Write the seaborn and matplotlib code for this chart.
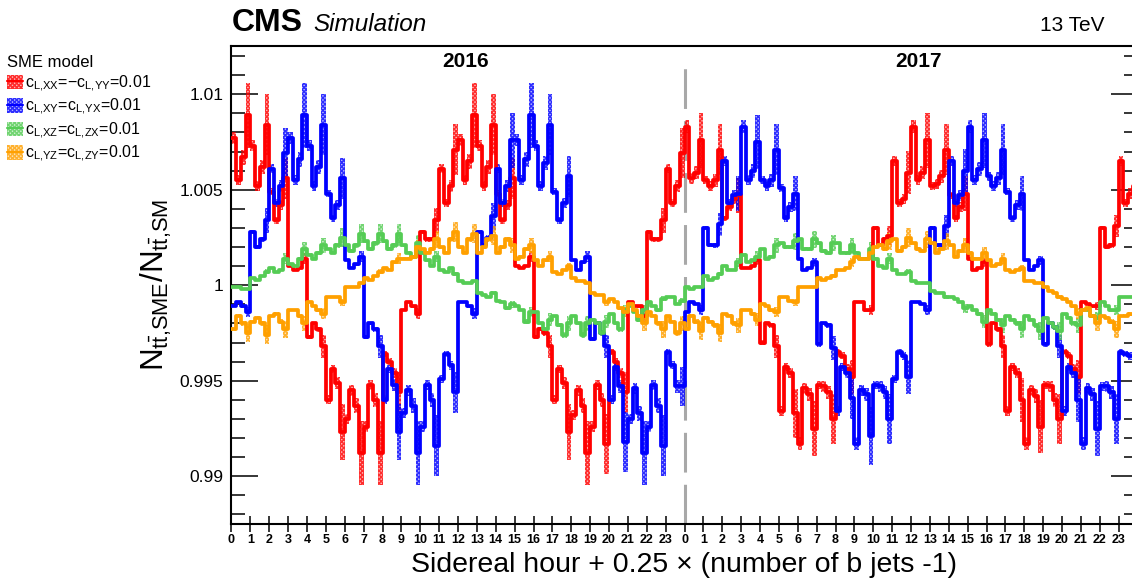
import numpy as np
import pandas as pd
import matplotlib
matplotlib.use('Agg')
import matplotlib.pyplot as plt
import seaborn as sns
from matplotlib.patches import Patch
from matplotlib.lines import Line2D
from matplotlib.colors import to_rgba
from matplotlib.ticker import MultipleLocator

sns.set_theme(style='ticks')
plt.rcParams['font.family'] = ['Liberation Sans', 'DejaVu Sans']
plt.rcParams['mathtext.fontset'] = 'custom'
plt.rcParams['mathtext.rm'] = 'Liberation Sans'
plt.rcParams['mathtext.it'] = 'Liberation Sans:italic'
plt.rcParams['hatch.linewidth'] = 1.0
plt.rcParams['text.color'] = 'black'
plt.rcParams['xtick.color'] = 'black'
plt.rcParams['ytick.color'] = 'black'
plt.rcParams['legend.labelcolor'] = 'black'

# x axis: sidereal hour + 0.25 x (n b jets - 1), 2016 then 2017
hour_labels = [str(h) for h in range(24)] * 2
year_labels = ['2016', '2017']
ytick_values = [0.99, 0.995, 1.0, 1.005, 1.01]
ytick_labels = ['0.99', '0.995', '1', '1.005', '1.01']

# relative size of the uncertainty band per b-jet bin (1,2,3,4 b jets)
bjet_rel_unc = [0.04, 0.05, 0.06, 0.19]

model_labels = [
    r'$\mathregular{c_{L{,}XX}}$=−$\mathregular{c_{L{,}YY}}$=0.01',
    r'$\mathregular{c_{L{,}XY}}$=$\mathregular{c_{L{,}YX}}$=0.01',
    r'$\mathregular{c_{L{,}XZ}}$=$\mathregular{c_{L{,}ZX}}$=0.01',
    r'$\mathregular{c_{L{,}YZ}}$=$\mathregular{c_{L{,}ZY}}$=0.01',
]
model_colors = ['#ff0000', '#0000ff', '#55cc55', '#ffa000']

# N_SME / N_SM, 4 bins per hour
ratio_xx_yy = [
    # 2016
    1.0077, 1.0055, 1.0067, 1.0089,  1.0073, 1.0052, 1.0062, 1.0084,  1.0049, 1.0034, 1.0042, 1.0056,
    1.0010, 1.0008, 1.0009, 1.0014,  0.9973, 0.9980, 0.9977, 0.9968,  0.9940, 0.9956, 0.9949, 0.9923,
    0.9930, 0.9945, 0.9937, 0.9912,  0.9926, 0.9948, 0.9940, 0.9912,  0.9964, 0.9960, 0.9954, 0.9944,
    0.9987, 0.9991, 0.9989, 0.9985,  1.0028, 1.0024, 1.0024, 1.0034,  1.0061, 1.0043, 1.0052, 1.0071,
    1.0076, 1.0055, 1.0065, 1.0089,  1.0073, 1.0052, 1.0062, 1.0084,  1.0048, 1.0034, 1.0042, 1.0056,
    1.0010, 1.0009, 1.0010, 1.0015,  0.9973, 0.9977, 0.9975, 0.9968,  0.9940, 0.9956, 0.9949, 0.9923,
    0.9932, 0.9945, 0.9937, 0.9912,  0.9926, 0.9948, 0.9940, 0.9917,  0.9965, 0.9960, 0.9954, 0.9944,
    0.9991, 0.9989, 0.9989, 0.9984,  1.0028, 1.0024, 1.0024, 1.0034,  1.0061, 1.0043, 1.0052, 1.0069,
    # 2017
    1.0083, 1.0056, 1.0059, 1.0076,  1.0055, 1.0052, 1.0055, 1.0071,  1.0035, 1.0041, 1.0045, 1.0047,
    1.0009, 1.0009, 1.0010, 1.0013,  0.9970, 0.9980, 0.9979, 0.9968,  0.9934, 0.9957, 0.9954, 0.9933,
    0.9917, 0.9946, 0.9943, 0.9925,  0.9948, 0.9947, 0.9944, 0.9930,  0.9965, 0.9963, 0.9956, 0.9952,
    0.9991, 0.9991, 0.9987, 0.9987,  1.0030, 1.0021, 1.0024, 1.0026,  1.0065, 1.0043, 1.0045, 1.0059,
    1.0083, 1.0055, 1.0059, 1.0076,  1.0052, 1.0053, 1.0057, 1.0071,  1.0047, 1.0035, 1.0041, 1.0048,
    1.0014, 1.0008, 1.0009, 1.0012,  0.9969, 0.9980, 0.9977, 0.9968,  0.9934, 0.9957, 0.9954, 0.9940,
    0.9917, 0.9945, 0.9942, 0.9926,  0.9948, 0.9947, 0.9940, 0.9930,  0.9965, 0.9963, 0.9956, 0.9952,
    0.9991, 0.9990, 0.9989, 0.9989,  1.0030, 1.0020, 1.0021, 1.0031,  1.0065, 1.0043, 1.0048, 1.0052,
]

ratio_xy_yx = [
    # 2016
    0.9989, 0.9991, 0.9989, 0.9986,  1.0028, 1.0020, 1.0024, 1.0034,  1.0061, 1.0043, 1.0052, 1.0069,
    1.0077, 1.0055, 1.0066, 1.0089,  1.0073, 1.0052, 1.0062, 1.0084,  1.0048, 1.0035, 1.0042, 1.0056,
    1.0013, 1.0009, 1.0011, 1.0015,  0.9973, 0.9980, 0.9977, 0.9968,  0.9940, 0.9956, 0.9948, 0.9923,
    0.9933, 0.9945, 0.9937, 0.9912,  0.9926, 0.9948, 0.9940, 0.9916,  0.9951, 0.9964, 0.9958, 0.9944,
    0.9991, 0.9991, 0.9989, 0.9985,  1.0028, 1.0021, 1.0025, 1.0036,  1.0061, 1.0043, 1.0052, 1.0076,
    1.0076, 1.0055, 1.0066, 1.0089,  1.0073, 1.0052, 1.0064, 1.0084,  1.0049, 1.0034, 1.0043, 1.0057,
    1.0013, 1.0008, 1.0012, 1.0015,  0.9972, 0.9980, 0.9975, 0.9968,  0.9940, 0.9957, 0.9947, 0.9918,
    0.9930, 0.9946, 0.9933, 0.9912,  0.9926, 0.9948, 0.9937, 0.9916,  0.9965, 0.9958, 0.9947, 0.9947,
    # 2017
    0.9986, 0.9991, 0.9990, 0.9987,  1.0030, 1.0021, 1.0021, 1.0032,  1.0065, 1.0043, 1.0047, 1.0048,
    1.0083, 1.0055, 1.0060, 1.0075,  1.0055, 1.0052, 1.0055, 1.0071,  1.0051, 1.0035, 1.0041, 1.0048,
    1.0014, 1.0008, 1.0009, 1.0012,  0.9969, 0.9980, 0.9979, 0.9967,  0.9934, 0.9957, 0.9954, 0.9941,
    0.9917, 0.9945, 0.9943, 0.9921,  0.9948, 0.9947, 0.9944, 0.9930,  0.9951, 0.9965, 0.9963, 0.9952,
    0.9991, 0.9991, 0.9990, 0.9987,  1.0030, 1.0021, 1.0021, 1.0031,  1.0065, 1.0043, 1.0047, 1.0060,
    1.0083, 1.0055, 1.0061, 1.0076,  1.0057, 1.0052, 1.0056, 1.0071,  1.0049, 1.0035, 1.0042, 1.0048,
    1.0013, 1.0008, 1.0010, 1.0013,  0.9969, 0.9980, 0.9978, 0.9968,  0.9934, 0.9957, 0.9954, 0.9940,
    0.9917, 0.9946, 0.9943, 0.9925,  0.9947, 0.9947, 0.9944, 0.9930,  0.9965, 0.9964, 0.9963, 0.9963,
]

ratio_xz_zx = [
    # 2016
    0.9999, 0.9999, 0.9998, 0.9998,  1.0004, 1.0003, 1.0005, 1.0007,  1.0009, 1.0007, 1.0008, 1.0014,
    1.0011, 1.0010, 1.0014, 1.0019,  1.0016, 1.0014, 1.0017, 1.0021,  1.0019, 1.0017, 1.0021, 1.0025,
    1.0021, 1.0018, 1.0021, 1.0027,  1.0023, 1.0019, 1.0022, 1.0027,  1.0023, 1.0019, 1.0021, 1.0027,
    1.0021, 1.0017, 1.0015, 1.0022,  1.0017, 1.0013, 1.0010, 1.0015,  1.0008, 1.0007, 1.0009, 1.0006,
    1.0002, 1.0001, 1.0001, 1.0002,  0.9996, 0.9995, 0.9994, 0.9996,  0.9992, 0.9991, 0.9988, 0.9990,
    0.9989, 0.9987, 0.9981, 0.9986,  0.9986, 0.9980, 0.9977, 0.9982,  0.9984, 0.9979, 0.9974, 0.9980,
    0.9984, 0.9980, 0.9974, 0.9980,  0.9982, 0.9980, 0.9975, 0.9981,  0.9985, 0.9980, 0.9977, 0.9987,
    0.9989, 0.9986, 0.9982, 0.9987,  0.9991, 0.9989, 0.9987, 0.9993,  0.9994, 0.9994, 0.9990, 0.9992,
    # 2017
    0.9999, 0.9998, 0.9999, 0.9999,  1.0005, 1.0003, 1.0004, 1.0006,  1.0010, 1.0008, 1.0008, 1.0012,
    1.0016, 1.0012, 1.0013, 1.0015,  1.0019, 1.0014, 1.0015, 1.0021,  1.0022, 1.0020, 1.0020, 1.0023,
    1.0024, 1.0019, 1.0019, 1.0024,  1.0022, 1.0018, 1.0017, 1.0022,  1.0022, 1.0017, 1.0017, 1.0021,
    1.0017, 1.0014, 1.0014, 1.0019,  1.0014, 1.0010, 1.0009, 1.0014,  1.0008, 1.0006, 1.0006, 1.0007,
    1.0002, 1.0001, 1.0001, 1.0001,  0.9997, 0.9996, 0.9996, 0.9994,  0.9994, 0.9993, 0.9991, 0.9988,
    0.9989, 0.9987, 0.9985, 0.9981,  0.9987, 0.9985, 0.9982, 0.9979,  0.9984, 0.9982, 0.9980, 0.9977,
    0.9984, 0.9982, 0.9979, 0.9976,  0.9983, 0.9980, 0.9978, 0.9976,  0.9985, 0.9983, 0.9980, 0.9979,
    0.9987, 0.9987, 0.9984, 0.9983,  0.9991, 0.9989, 0.9987, 0.9987,  0.9994, 0.9994, 0.9994, 0.9994,
]

ratio_yz_zy = [
    # 2016
    0.9977, 0.9984, 0.9980, 0.9975,  0.9981, 0.9983, 0.9980, 0.9974,  0.9984, 0.9985, 0.9981, 0.9977,
    0.9987, 0.9987, 0.9984, 0.9980,  0.9991, 0.9989, 0.9987, 0.9985,  0.9994, 0.9994, 0.9994, 0.9991,
    0.9999, 0.9999, 0.9999, 1.0001,  1.0004, 1.0003, 1.0005, 1.0007,  1.0009, 1.0008, 1.0012, 1.0014,
    1.0014, 1.0014, 1.0015, 1.0020,  1.0019, 1.0017, 1.0019, 1.0024,  1.0020, 1.0017, 1.0024, 1.0028,
    1.0020, 1.0017, 1.0024, 1.0027,  1.0017, 1.0020, 1.0024, 1.0026,  1.0017, 1.0020, 1.0024, 1.0021,
    1.0014, 1.0015, 1.0019, 1.0021,  1.0013, 1.0010, 1.0013, 1.0015,  1.0007, 1.0006, 1.0008, 1.0010,
    1.0004, 1.0002, 1.0002, 1.0001,  0.9996, 0.9995, 0.9995, 0.9991,  0.9993, 0.9991, 0.9988, 0.9986,
    0.9990, 0.9987, 0.9984, 0.9980,  0.9986, 0.9984, 0.9980, 0.9977,  0.9984, 0.9981, 0.9975, 0.9980,
    # 2017
    0.9977, 0.9984, 0.9981, 0.9976,  0.9983, 0.9981, 0.9979, 0.9975,  0.9985, 0.9984, 0.9980, 0.9979,
    0.9987, 0.9987, 0.9985, 0.9982,  0.9990, 0.9989, 0.9987, 0.9986,  0.9994, 0.9994, 0.9992, 0.9991,
    0.9999, 0.9999, 0.9999, 0.9999,  1.0004, 1.0003, 1.0004, 1.0005,  1.0008, 1.0008, 1.0009, 1.0012,
    1.0015, 1.0014, 1.0014, 1.0017,  1.0020, 1.0021, 1.0019, 1.0023,  1.0024, 1.0018, 1.0020, 1.0025,
    1.0022, 1.0019, 1.0018, 1.0024,  1.0022, 1.0017, 1.0019, 1.0023,  1.0021, 1.0015, 1.0018, 1.0021,
    1.0017, 1.0014, 1.0014, 1.0017,  1.0013, 1.0010, 1.0011, 1.0014,  1.0008, 1.0007, 1.0008, 1.0009,
    1.0002, 1.0002, 1.0001, 1.0001,  0.9999, 0.9997, 0.9996, 0.9994,  0.9993, 0.9991, 0.9989, 0.9985,
    0.9987, 0.9988, 0.9984, 0.9980,  0.9984, 0.9983, 0.9981, 0.9977,  0.9984, 0.9984, 0.9985, 0.9985,
]

series = [ratio_xx_yy, ratio_xy_yx, ratio_xz_zx, ratio_yz_zy]

n_bins = len(ratio_xx_yy)
edges = np.arange(n_bins + 1) * 0.25

# long table for seaborn (last value repeated so the step closes at x=48)
frames = []
for label, vals in zip(model_labels, series):
    frames.append(pd.DataFrame({'x': edges, 'ratio': list(vals) + [vals[-1]], 'model': label}))
df = pd.concat(frames, ignore_index=True)

fig = plt.figure(figsize=(11.32, 5.87), dpi=100)
ax = fig.add_axes([0.2045, 0.1073, 0.8004, 0.8135])

# uncertainty bands (checkered look: light tint + dense hatch)
rel = np.tile(bjet_rel_unc, n_bins // 4)
for vals, color in zip(series, model_colors):
    v = np.asarray(vals)
    err = rel * np.abs(v - 1.0)
    lo = np.append(v - err, v[-1] - err[-1])
    hi = np.append(v + err, v[-1] + err[-1])
    ax.fill_between(edges, lo, hi, step='post', facecolor=to_rgba(color, 0.3),
                    edgecolor=to_rgba(color, 0.75), hatch='xxxxxxxx', linewidth=0, zorder=2)

sns.lineplot(data=df, x='x', y='ratio', hue='model', palette=model_colors,
             estimator=None, drawstyle='steps-post', linewidth=2.7,
             legend=False, ax=ax, zorder=3)

ax.axvline(24, ymin=0, ymax=0.978, color='#a8a8a8', linewidth=2.2,
           linestyle=(0, (13, 4)), zorder=1)

ax.set_xlim(0, 48)
ax.set_ylim(0.9875, 1.0125)
ax.set_xticks(np.arange(48))
ax.set_xticklabels(hour_labels, fontweight='bold')
ax.set_yticks(ytick_values)
ax.set_yticklabels(ytick_labels)
ax.yaxis.set_minor_locator(MultipleLocator(0.001))
ax.set_xlabel('')
ax.set_ylabel('')

ax.tick_params(axis='x', which='major', direction='inout', length=11, width=1.1,
               top=False, labelsize=9, pad=2, colors='black')
ax.tick_params(axis='x', which='minor', bottom=False, top=False)
ax.tick_params(axis='y', which='major', direction='in', length=19.5, width=1.1,
               left=True, right=True, labelsize=12.5, pad=6, colors='black')
ax.tick_params(axis='y', which='minor', direction='in', length=10, width=1.1,
               left=True, right=True)
for sp in ax.spines.values():
    sp.set_visible(True)
    sp.set_linewidth(1.5)
    sp.set_color('black')

ax.text(12.4, 1.0117, year_labels[0], ha='center', va='center', fontsize=15, fontweight='bold')
ax.text(36.4, 1.0117, year_labels[1], ha='center', va='center', fontsize=15, fontweight='bold')

fig.text(0.6045, 0.025, 'Sidereal hour + 0.25 × (number of b jets -1)',
         ha='center', va='baseline', fontsize=20.5)
fig.text(0.138, 0.514, r'$\mathregular{N_{t\bar{t}{,}SME}/N_{t\bar{t}{,}SM}}$',
         ha='center', va='center', rotation=90, fontsize=22.5)

fig.text(0.205, 0.948, 'CMS', fontsize=23, fontweight='bold', va='baseline')
fig.text(0.2765, 0.948, 'Simulation', fontsize=17.5, style='italic', va='baseline')
fig.text(0.976, 0.948, '13 TeV', fontsize=15, ha='right', va='baseline')

handles = [(Patch(facecolor=to_rgba(c, 0.3), edgecolor=to_rgba(c, 0.75), hatch='xxxxxxxx', linewidth=0),
            Line2D([], [], color=c, linewidth=1.5)) for c in model_colors]
leg = fig.legend(handles, model_labels, title='SME model', loc='upper left',
                 bbox_to_anchor=(-0.004, 0.925), frameon=False, fontsize=11.5,
                 title_fontsize=12, handlelength=1.0, handleheight=1.0,
                 handletextpad=0.15, labelspacing=0.2, borderaxespad=0.3)
leg._legend_box.align = 'left'
leg.get_title().set_color('black')

fig.savefig('out.png', dpi=100)
